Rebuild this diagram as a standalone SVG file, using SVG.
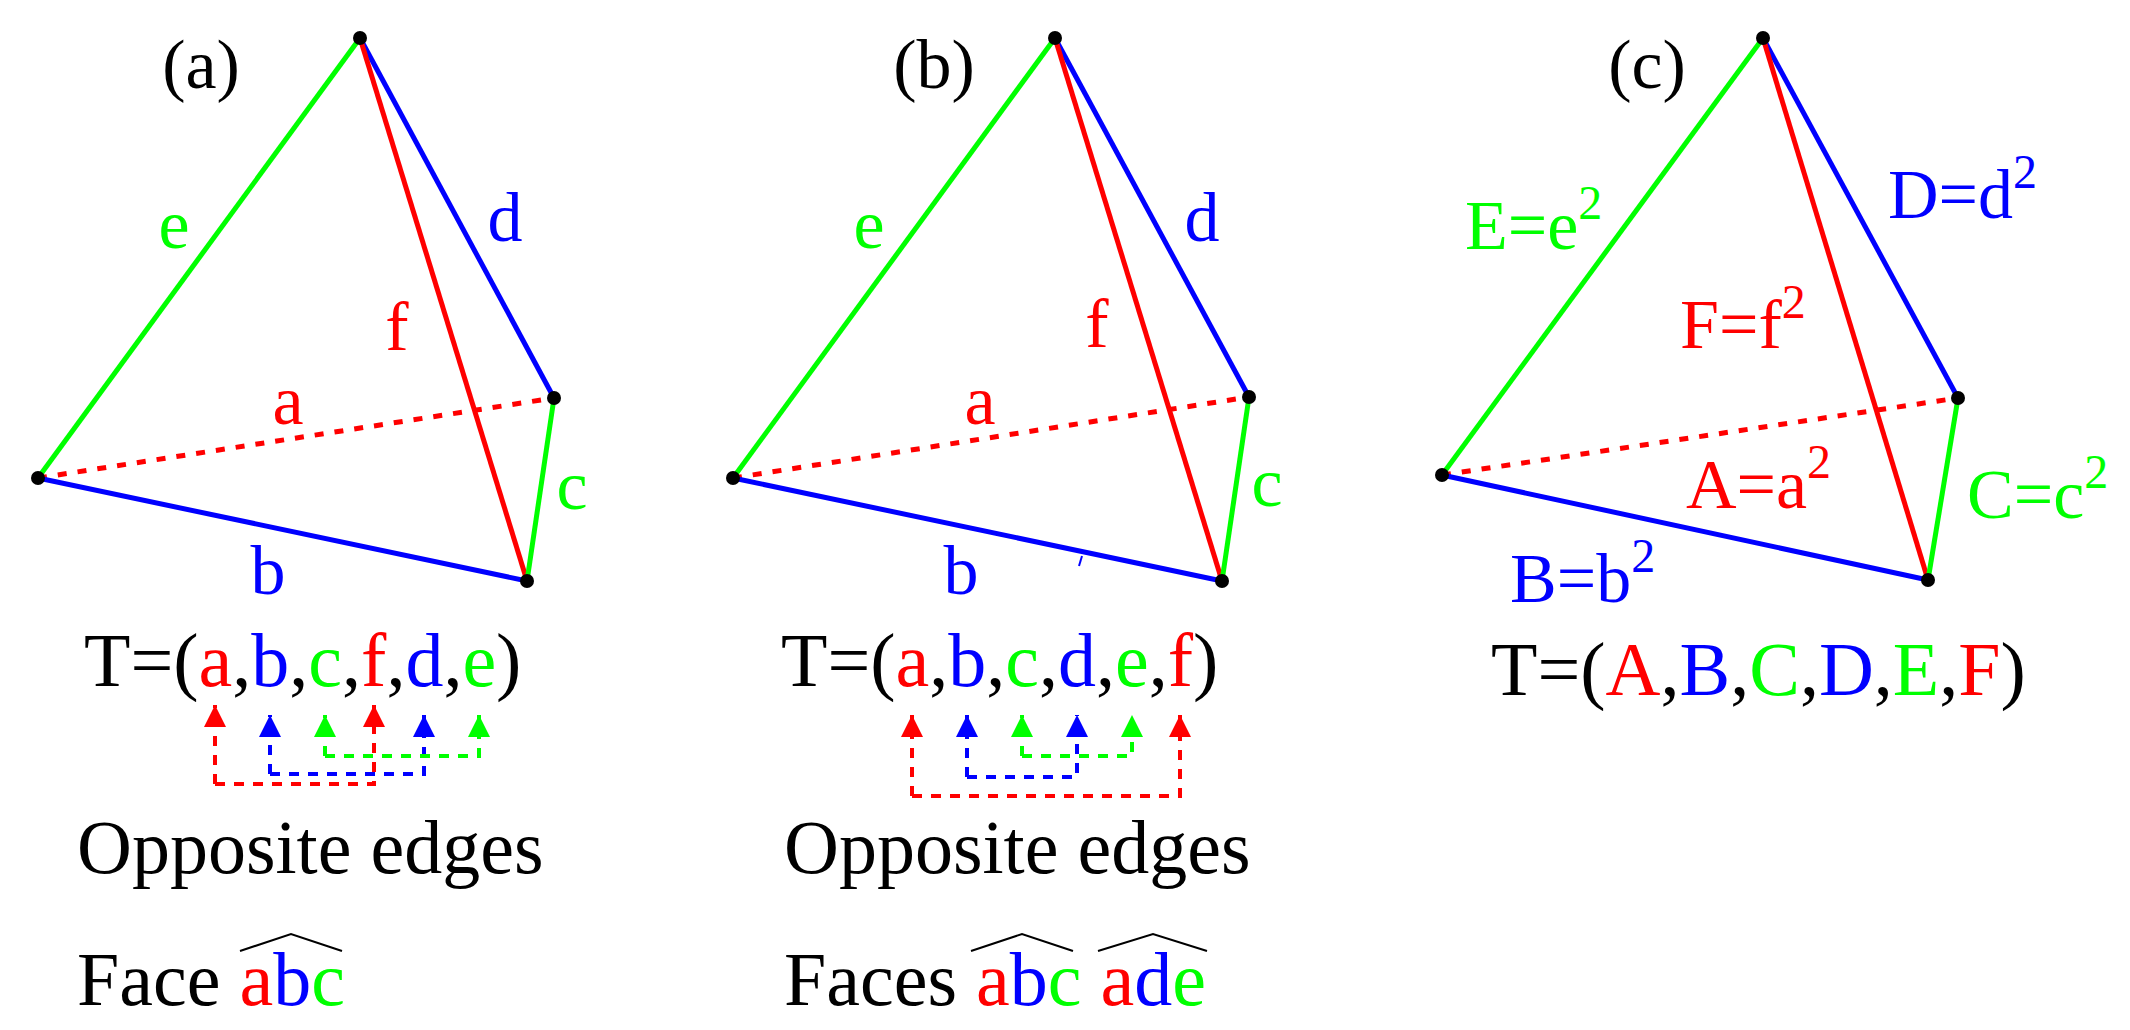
<svg xmlns="http://www.w3.org/2000/svg" width="2130" height="1030" viewBox="0 0 2130 1030" font-family="Liberation Serif, DejaVu Serif, serif">
<style>
text{font-family:'Liberation Serif','DejaVu Serif',serif;font-size:70px}
.big{font-size:76px}
.r{fill:#ff0000}.b{fill:#0000ff}.g{fill:#00ff00}.k{fill:#000}
.er{stroke:#ff0000}.eb{stroke:#0000ff}.eg{stroke:#00ff00}
.edge{stroke-width:5;fill:none}
.dash{stroke-dasharray:9 11}
.arr{stroke-width:4;fill:none;stroke-dasharray:10 9}
.sup{font-size:48px}
.hat{stroke:#000;stroke-width:2;fill:none}
</style>
<defs>
<marker id="mr" viewBox="0 0 10 10" refX="10" refY="5" markerWidth="6" markerHeight="5.5" orient="auto" markerUnits="strokeWidth"><path d="M0,0L10,5L0,10z" fill="#ff0000"/></marker>
<marker id="mb" viewBox="0 0 10 10" refX="10" refY="5" markerWidth="6" markerHeight="5.5" orient="auto" markerUnits="strokeWidth"><path d="M0,0L10,5L0,10z" fill="#0000ff"/></marker>
<marker id="mg" viewBox="0 0 10 10" refX="10" refY="5" markerWidth="6" markerHeight="5.5" orient="auto" markerUnits="strokeWidth"><path d="M0,0L10,5L0,10z" fill="#00ff00"/></marker>
</defs>

<g id="panel-a">
<g id="edges-a">
<line class="edge eg" x1="360" y1="38" x2="38" y2="478"/>
<line class="edge eb" x1="360" y1="38" x2="554" y2="398"/>
<line class="edge er" x1="360" y1="38" x2="527" y2="581"/>
<line class="edge er dash" x1="38" y1="478" x2="554" y2="398"/>
<line class="edge eb" x1="38" y1="478" x2="527" y2="581"/>
<line class="edge eg" x1="554" y1="398" x2="527" y2="581"/>
</g>
<g id="vertices-a"><circle cx="360" cy="38" r="7"/><circle cx="38" cy="478" r="7"/><circle cx="554" cy="398" r="7"/><circle cx="527" cy="581" r="7"/></g>
<text x="201" y="88" text-anchor="middle">(a)</text>
<text class="g" x="174" y="248" text-anchor="middle">e</text>
<text class="b" x="505" y="241" text-anchor="middle">d</text>
<text class="r" x="397" y="350" text-anchor="middle">f</text>
<text class="r" x="288" y="424" text-anchor="middle">a</text>
<text class="g" x="572" y="509" text-anchor="middle">c</text>
<text class="b" x="268" y="594" text-anchor="middle">b</text>
<text class="big" x="84" y="686">T=(<tspan class="r">a</tspan>,<tspan class="b">b</tspan>,<tspan class="g">c</tspan>,<tspan class="r">f</tspan>,<tspan class="b">d</tspan>,<tspan class="g">e</tspan>)</text>
<g id="connectors-a">
<polyline class="arr er" points="215,784 374,784 374,705" marker-end="url(#mr)"/>
<line class="arr er" x1="215" y1="784" x2="215" y2="705" marker-end="url(#mr)"/>
<polyline class="arr eb" points="270,774 424,774 424,715" marker-end="url(#mb)"/>
<line class="arr eb" x1="270" y1="774" x2="270" y2="715" marker-end="url(#mb)"/>
<polyline class="arr eg" points="325,756 479,756 479,715" marker-end="url(#mg)"/>
<line class="arr eg" x1="325" y1="756" x2="325" y2="715" marker-end="url(#mg)"/>
</g>
<text class="big" x="77" y="873">Opposite edges</text>
<text class="big" x="77" y="1005">Face <tspan class="r">a</tspan><tspan class="b">b</tspan><tspan class="g">c</tspan></text>
<polyline class="hat" points="240,951 291,934 342,951"/>
</g>

<g id="panel-b">
<g id="edges-b">
<line class="edge eg" x1="1055" y1="38" x2="733" y2="478"/>
<line class="edge eb" x1="1055" y1="38" x2="1249" y2="397"/>
<line class="edge er" x1="1055" y1="38" x2="1222" y2="581"/>
<line class="edge er dash" x1="733" y1="478" x2="1249" y2="397"/>
<line class="edge eb" x1="733" y1="478" x2="1222" y2="581"/>
<line class="edge eg" x1="1249" y1="397" x2="1222" y2="581"/>
</g>
<g id="vertices-b"><circle cx="1055" cy="38" r="7"/><circle cx="733" cy="478" r="7"/><circle cx="1249" cy="397" r="7"/><circle cx="1222" cy="581" r="7"/></g>
<text x="934" y="88" text-anchor="middle">(b)</text>
<text class="g" x="869" y="248" text-anchor="middle">e</text>
<text class="b" x="1202" y="241" text-anchor="middle">d</text>
<text class="r" x="1097" y="347" text-anchor="middle">f</text>
<text class="r" x="980" y="424" text-anchor="middle">a</text>
<text class="g" x="1267" y="506" text-anchor="middle">c</text>
<text class="b" x="961" y="594" text-anchor="middle">b</text>
<line x1="1082" y1="556" x2="1079" y2="566" stroke="#0000ff" stroke-width="2"/>
<text class="big" x="781" y="686">T=(<tspan class="r">a</tspan>,<tspan class="b">b</tspan>,<tspan class="g">c</tspan>,<tspan class="b">d</tspan>,<tspan class="g">e</tspan>,<tspan class="r">f</tspan>)</text>
<g id="connectors-b">
<polyline class="arr er" points="912,796 1180,796 1180,715" marker-end="url(#mr)"/>
<line class="arr er" x1="912" y1="796" x2="912" y2="715" marker-end="url(#mr)"/>
<polyline class="arr eb" points="967,777 1077,777 1077,715" marker-end="url(#mb)"/>
<line class="arr eb" x1="967" y1="777" x2="967" y2="715" marker-end="url(#mb)"/>
<polyline class="arr eg" points="1022,756 1132,756 1132,715" marker-end="url(#mg)"/>
<line class="arr eg" x1="1022" y1="756" x2="1022" y2="715" marker-end="url(#mg)"/>
</g>
<text class="big" x="784" y="873">Opposite edges</text>
<text class="big" x="784" y="1005">Faces <tspan class="r">a</tspan><tspan class="b">b</tspan><tspan class="g">c</tspan> <tspan class="r">a</tspan><tspan class="b">d</tspan><tspan class="g">e</tspan></text>
<polyline class="hat" points="971,951 1022,934 1073,951"/>
<polyline class="hat" points="1098,951 1153,934 1207,951"/>
</g>

<g id="panel-c">
<g id="edges-c">
<line class="edge eg" x1="1763" y1="38" x2="1442" y2="475"/>
<line class="edge eb" x1="1763" y1="38" x2="1958" y2="398"/>
<line class="edge er" x1="1763" y1="38" x2="1928" y2="580"/>
<line class="edge er dash" x1="1442" y1="475" x2="1958" y2="398"/>
<line class="edge eb" x1="1442" y1="475" x2="1928" y2="580"/>
<line class="edge eg" x1="1958" y1="398" x2="1928" y2="580"/>
</g>
<g id="vertices-c"><circle cx="1763" cy="38" r="7"/><circle cx="1442" cy="475" r="7"/><circle cx="1958" cy="398" r="7"/><circle cx="1928" cy="580" r="7"/></g>
<text x="1647" y="88" text-anchor="middle">(c)</text>
<text class="g" x="1465" y="249">E=e<tspan class="sup" dy="-30">2</tspan></text>
<text class="b" x="1888" y="218">D=d<tspan class="sup" dy="-30">2</tspan></text>
<text class="r" x="1680" y="348">F=f<tspan class="sup" dy="-30">2</tspan></text>
<text class="r" x="1686" y="508">A=a<tspan class="sup" dy="-30">2</tspan></text>
<text class="g" x="1967" y="518">C=c<tspan class="sup" dy="-30">2</tspan></text>
<text class="b" x="1510" y="602">B=b<tspan class="sup" dy="-30">2</tspan></text>
<text class="big" x="1491" y="695">T=(<tspan class="r">A</tspan>,<tspan class="b">B</tspan>,<tspan class="g">C</tspan>,<tspan class="b">D</tspan>,<tspan class="g">E</tspan>,<tspan class="r">F</tspan>)</text>
</g>
</svg>
